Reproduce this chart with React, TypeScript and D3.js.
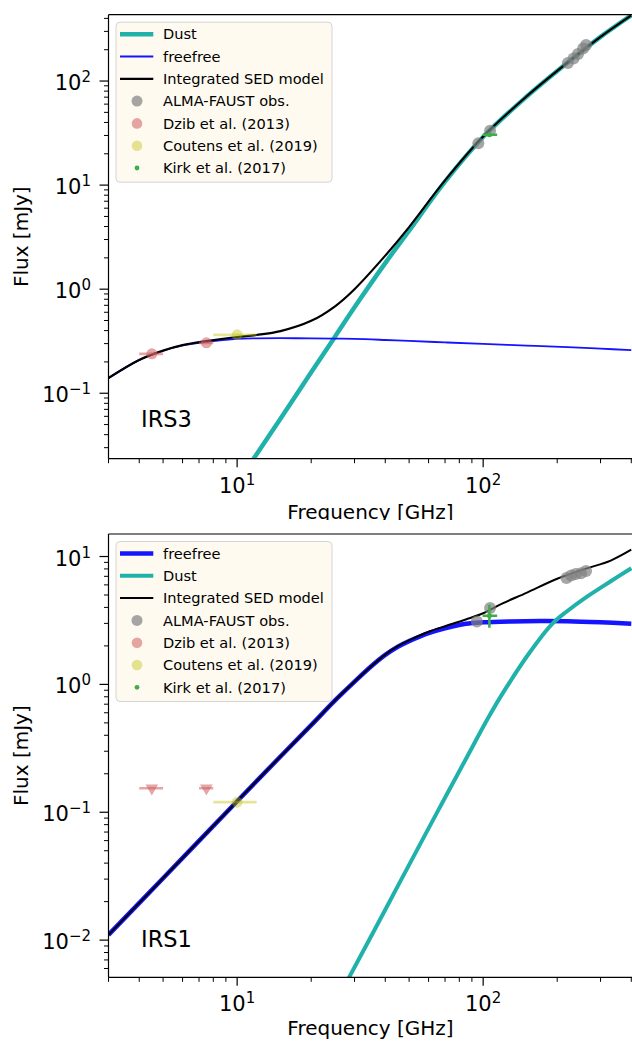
import * as d3 from 'd3';

const FONT = "'DejaVu Sans', sans-serif";
const W = 632;
const H = 1041;

const DUST = '#20b2aa';
const FF = '#1414ff';
const GREY = '#808080';
const DZIB = '#cd5c5c';
const COUT = '#bfbf00';
const KIRK = '#3fae49';

// frequency range of both panels (GHz)
const freqDomain = [3, 405];

// ---- IRS3 (top) ----
const irs3Freq = [3, 4, 5, 6, 7.5, 10, 12, 15, 20, 25, 30, 40, 50, 70, 100, 150, 220, 300, 400];
const irs3FreeFree = [0.14, 0.209, 0.256, 0.288, 0.312, 0.333, 0.337, 0.338, 0.337, 0.335, 0.333, 0.325, 0.318, 0.308, 0.298, 0.287, 0.277, 0.268, 0.26];
const irs3Total = [0.14, 0.209, 0.257, 0.29, 0.317, 0.347, 0.363, 0.395, 0.496, 0.685, 1.0, 2.1, 3.95, 11.1, 29.3, 71, 150, 266, 428];
const irs3DustFreq = [10, 12, 15, 20, 25, 30, 40, 50, 70, 100, 150, 220, 300, 400];
const irs3Dust = [0.0136, 0.026, 0.057, 0.159, 0.35, 0.67, 1.78, 3.65, 10.8, 29, 70.7, 150, 266, 428];

const irs3AlmaFreq = [95.6, 106.7, 221, 233, 243, 255, 262];
const irs3AlmaFlux = [25.2, 33.3, 149, 165, 182, 205, 222];
const irs3DzibFreq = [4.5, 7.5];
const irs3DzibFlux = [0.239, 0.305];
const irs3DzibLo = [4, 7];
const irs3DzibHi = [5, 8];
const irs3CoutFreq = [10];
const irs3CoutFlux = [0.364];
const irs3CoutLo = [8];
const irs3CoutHi = [12];
const irs3KirkFreq = [106];
const irs3KirkFlux = [30.5];
const irs3KirkLo = [99.5];
const irs3KirkHi = [114];

// ---- IRS1 (bottom) ----
const irs1FfFreq = [3, 5, 10, 15, 20, 25, 30, 35, 40, 45, 50, 60, 70, 85, 100, 130, 170, 220, 300, 400];
const irs1FreeFree = [0.011, 0.0305, 0.122, 0.273, 0.48, 0.75, 1.05, 1.38, 1.7, 1.97, 2.18, 2.52, 2.75, 2.98, 3.06, 3.11, 3.13, 3.12, 3.06, 2.98];
const irs1DustFreq = [25, 28.5, 40, 50, 65, 85, 105, 120, 154, 190, 220, 260, 330, 400];
const irs1Dust = [0.0032, 0.0051, 0.0173, 0.0388, 0.0997, 0.26, 0.55, 0.85, 1.76, 2.95, 3.75, 4.75, 6.4, 8.1];
const irs1TotalFreq = [3, 5, 10, 15, 20, 25, 30, 35, 40, 45, 50, 60, 70, 85, 100, 120, 150, 200, 260, 330, 400];
const irs1Total = [0.011, 0.0305, 0.122, 0.273, 0.48, 0.75, 1.05, 1.38, 1.71, 1.99, 2.21, 2.58, 2.85, 3.22, 3.6, 4.3, 5.2, 6.7, 8.0, 9.3, 11.3];

const irs1AlmaFreq = [94.3, 106.7, 218, 228, 238, 250, 262];
const irs1AlmaFlux = [3.1, 3.95, 6.8, 7.1, 7.3, 7.4, 7.7];
const irs1DzibFreq = [4.5, 7.5];
const irs1DzibFlux = [0.154, 0.154];
const irs1DzibLo = [4, 7];
const irs1DzibHi = [5, 8];
const irs1CoutFreq = [10];
const irs1CoutFlux = [0.12];
const irs1CoutLo = [8];
const irs1CoutHi = [12];
const irs1KirkFreq = [106];
const irs1KirkFlux = [3.44];
const irs1KirkLo = [99.5];
const irs1KirkHi = [114];
const irs1KirkYLo = [2.77];
const irs1KirkYHi = [4.19];

const xScale = d3.scaleLog().domain(freqDomain).range([108.5, 632.6]);

const isMajor = (v: number) => Math.abs(Math.log10(v) - Math.round(Math.log10(v))) < 1e-6;

function Pow({ x, y, exp, anchor }: any) {
  const s = exp < 0 ? '\u2212' + -exp : String(exp);
  return (
    <text x={x} y={y} textAnchor={anchor} fontSize={21} fontFamily={FONT}>
      10<tspan dy={-8} fontSize={15}>{s}</tspan>
    </text>
  );
}

function Panel(p: any) {
  const y = d3.scaleLog().domain(p.yDomain).range([p.bottom, p.top]);
  const [left, right] = xScale.range();
  const line = d3
    .line<[number, number]>()
    .x((d) => xScale(d[0]))
    .y((d) => y(d[1]))
    .curve(d3.curveCatmullRom.alpha(0.5));
  const path = (f: number[], s: number[]) => line(d3.zip(f, s) as any) || '';

  const hbars = (f: number[], s: number[], lo: number[], hi: number[], color: string, op: number) =>
    f.map((_, i) => (
      <line key={'h' + i} x1={xScale(lo[i])} x2={xScale(hi[i])} y1={y(s[i])} y2={y(s[i])}
        stroke={color} strokeOpacity={op} strokeWidth={2.6} />
    ));

  const tri = d3.symbol().type(d3.symbolTriangle).size(70)();

  return (
    <g>
      <defs>
        <clipPath id={p.clipId}>
          <rect x={left} y={p.top} width={right - left} height={p.bottom - p.top} />
        </clipPath>
      </defs>
      <g clipPath={`url(#${p.clipId})`}>
        {p.curves.map((c: any, i: number) => (
          <path key={i} d={path(c.f, c.s)} fill="none" stroke={c.color} strokeWidth={c.width} />
        ))}
        {/* ALMA-FAUST */}
        {p.almaF.map((f: number, i: number) => (
          <circle key={'a' + i} cx={xScale(f)} cy={y(p.almaS[i])} r={6} fill={GREY} fillOpacity={0.7} />
        ))}
        {/* Dzib */}
        {hbars(p.dzibF, p.dzibS, p.dzibLo, p.dzibHi, DZIB, 0.55)}
        {p.dzibF.map((f: number, i: number) =>
          p.dzibLimit ? (
            <path key={'d' + i} d={tri!} transform={`translate(${xScale(f)},${y(p.dzibS[i])}) rotate(180)`}
              fill={DZIB} fillOpacity={0.55} />
          ) : (
            <circle key={'d' + i} cx={xScale(f)} cy={y(p.dzibS[i])} r={5.5} fill={DZIB} fillOpacity={0.55} />
          )
        )}
        {/* Coutens */}
        {hbars(p.coutF, p.coutS, p.coutLo, p.coutHi, COUT, 0.4)}
        {p.coutF.map((f: number, i: number) => (
          <circle key={'c' + i} cx={xScale(f)} cy={y(p.coutS[i])} r={5.5} fill={COUT} fillOpacity={0.4} />
        ))}
        {/* Kirk */}
        {hbars(p.kirkF, p.kirkS, p.kirkLo, p.kirkHi, KIRK, 1)}
        {p.kirkYLo &&
          p.kirkF.map((f: number, i: number) => (
            <line key={'kv' + i} x1={xScale(f)} x2={xScale(f)} y1={y(p.kirkYLo[i])} y2={y(p.kirkYHi[i])}
              stroke={KIRK} strokeWidth={2.6} />
          ))}
        {p.kirkF.map((f: number, i: number) => (
          <circle key={'k' + i} cx={xScale(f)} cy={y(p.kirkS[i])} r={2.5} fill={KIRK} />
        ))}
      </g>

      {/* spines */}
      <line x1={left} x2={left} y1={p.top} y2={p.bottom} stroke="#000" strokeWidth={1.2} />
      <line x1={left} x2={right} y1={p.bottom} y2={p.bottom} stroke="#000" strokeWidth={1.2} />
      <line x1={left} x2={right} y1={p.top} y2={p.top} stroke="#000" strokeWidth={1.2} />
      <line x1={right} x2={right} y1={p.top} y2={p.bottom} stroke="#000" strokeWidth={1.2} />

      {/* x ticks */}
      {xScale.ticks().map((t, i) => {
        const M = isMajor(t);
        const x = xScale(t);
        return (
          <g key={'xt' + i}>
            <line x1={x} x2={x} y1={p.bottom} y2={p.bottom + (M ? 8.5 : 4.5)} stroke="#000" strokeWidth={M ? 1.2 : 1} />
            {M && <Pow x={x} y={p.bottom + 34} exp={Math.round(Math.log10(t))} anchor="middle" />}
          </g>
        );
      })}
      {/* y ticks */}
      {y.ticks().map((t, i) => {
        const M = isMajor(t);
        const yy = y(t);
        return (
          <g key={'yt' + i}>
            <line x1={left} x2={left - (M ? 9 : 4.5)} y1={yy} y2={yy} stroke="#000" strokeWidth={M ? 1.2 : 1} />
            {M && <Pow x={91} y={yy + 9} exp={Math.round(Math.log10(t))} anchor="end" />}
          </g>
        );
      })}

      <text x={p.labelX} y={p.bottom + p.xlabelOffset} textAnchor="middle" fontSize={20} fontFamily={FONT}>
        Frequency [GHz]
      </text>
      <text transform={`translate(28,${(p.top + p.bottom) / 2}) rotate(-90)`} textAnchor="middle" fontSize={20} fontFamily={FONT}>
        Flux [mJy]
      </text>
      <text x={141} y={p.nameY} fontSize={22.5} fontFamily={FONT}>{p.name}</text>

      {/* legend */}
      <g>
        <rect x={116} y={p.top + 7.5} width={216} height={160} rx={4} fill="#fefaf0" stroke="#d4d4d4" strokeWidth={1} />
        {p.legend.map((e: any, i: number) => {
          const cy = p.top + 19.5 + i * 22.3;
          return (
            <g key={'lg' + i}>
              {e.kind === 'line' ? (
                <line x1={120} x2={153.3} y1={cy} y2={cy} stroke={e.color} strokeWidth={e.width} />
              ) : (
                <circle cx={137} cy={cy} r={e.r} fill={e.color} fillOpacity={e.op} />
              )}
              <text x={163} y={cy + 5.2} fontSize={14.6} fontFamily={FONT}>{e.label}</text>
            </g>
          );
        })}
      </g>
    </g>
  );
}

const obsLegend = [
  { label: 'ALMA-FAUST obs.', kind: 'dot', color: GREY, r: 5.5, op: 0.7 },
  { label: 'Dzib et al. (2013)', kind: 'dot', color: DZIB, r: 5.3, op: 0.55 },
  { label: 'Coutens et al. (2019)', kind: 'dot', color: COUT, r: 5.3, op: 0.4 },
  { label: 'Kirk et al. (2017)', kind: 'dot', color: KIRK, r: 2.4, op: 1 },
];

export default function App() {
  return (
    <svg width={W} height={H} style={{ position: 'absolute', left: 0, top: 0, background: '#fff' }}>
      <rect width={W} height={H} fill="#fff" />
      <Panel
        clipId="c3"
        top={14.7}
        bottom={458.7}
        yDomain={[0.0235, 434]}
        name="IRS3"
        nameY={426.7}
        labelX={370.5}
        xlabelOffset={59.8}
        curves={[
          { f: irs3DustFreq, s: irs3Dust, color: DUST, width: 4.5 },
          { f: irs3Freq, s: irs3FreeFree, color: FF, width: 1.8 },
          { f: irs3Freq, s: irs3Total, color: '#000', width: 2.2 },
        ]}
        almaF={irs3AlmaFreq} almaS={irs3AlmaFlux}
        dzibF={irs3DzibFreq} dzibS={irs3DzibFlux} dzibLo={irs3DzibLo} dzibHi={irs3DzibHi} dzibLimit={false}
        coutF={irs3CoutFreq} coutS={irs3CoutFlux} coutLo={irs3CoutLo} coutHi={irs3CoutHi}
        kirkF={irs3KirkFreq} kirkS={irs3KirkFlux} kirkLo={irs3KirkLo} kirkHi={irs3KirkHi}
        legend={[
          { label: 'Dust', kind: 'line', color: DUST, width: 4.5 },
          { label: 'freefree', kind: 'line', color: FF, width: 1.8 },
          { label: 'Integrated SED model', kind: 'line', color: '#000', width: 2.2 },
          ...obsLegend,
        ]}
      />
      {/* lower figure covers the bottom of the upper x label */}
      <rect x={0} y={520} width={W} height={H - 520} fill="#fff" />
      <Panel
        clipId="c1"
        top={534}
        bottom={977.3}
        yDomain={[0.00512, 15]}
        name="IRS1"
        nameY={946.7}
        labelX={370.5}
        xlabelOffset={57.5}
        curves={[
          { f: irs1FfFreq, s: irs1FreeFree, color: FF, width: 4.5 },
          { f: irs1DustFreq, s: irs1Dust, color: DUST, width: 4 },
          { f: irs1TotalFreq, s: irs1Total, color: '#000', width: 2 },
        ]}
        almaF={irs1AlmaFreq} almaS={irs1AlmaFlux}
        dzibF={irs1DzibFreq} dzibS={irs1DzibFlux} dzibLo={irs1DzibLo} dzibHi={irs1DzibHi} dzibLimit={true}
        coutF={irs1CoutFreq} coutS={irs1CoutFlux} coutLo={irs1CoutLo} coutHi={irs1CoutHi}
        kirkF={irs1KirkFreq} kirkS={irs1KirkFlux} kirkLo={irs1KirkLo} kirkHi={irs1KirkHi}
        kirkYLo={irs1KirkYLo} kirkYHi={irs1KirkYHi}
        legend={[
          { label: 'freefree', kind: 'line', color: FF, width: 4.5 },
          { label: 'Dust', kind: 'line', color: DUST, width: 4 },
          { label: 'Integrated SED model', kind: 'line', color: '#000', width: 2 },
          ...obsLegend,
        ]}
      />
    </svg>
  );
}
